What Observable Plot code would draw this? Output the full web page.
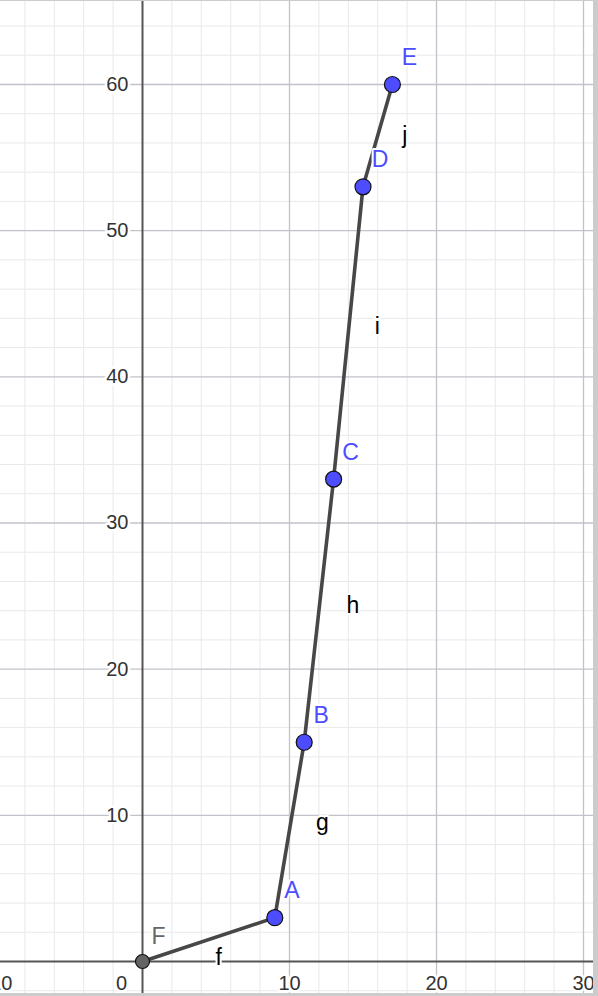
<!DOCTYPE html>
<html><head><meta charset="utf-8">
<script src="https://cdn.jsdelivr.net/npm/d3@7"></script>
<script src="https://cdn.jsdelivr.net/npm/@observablehq/plot@0.6"></script>
<style>
html,body{margin:0;padding:0;background:#cccccc;overflow:hidden;}
#chart{position:absolute;left:0;top:1px;width:593px;height:992px;background:#fff;}
#chart svg{display:block;}
</style></head><body><div id="chart"></div>
<script>
// ---- data ----
const pointNames = ["F", "A", "B", "C", "D", "E"];
const pointX = [0, 9, 11, 13, 15, 17];
const pointY = [0, 3, 15, 33, 53, 60];
const segmentNames = ["f", "g", "h", "i", "j"];
const xTickValues = [-10, 0, 10, 20, 30];
const yTickValues = [10, 20, 30, 40, 50, 60];

// ---- layout ----
const W = 593, H = 992;
const xDomain = [-142 / 14.7, (593 - 142) / 14.7];
const yDomain = [-(992 - 960) / 14.617, 960 / 14.617];
const segLabelOffsets = [[10, 18], [33, -7], [34, -5], [29, -6], [27, 0]];
const font = "Liberation Sans, Arial, Helvetica, sans-serif";

const points = pointNames.map((n, i) => ({name: n, x: pointX[i], y: pointY[i]}));
const segments = segmentNames.map((n, i) => ({
  name: n,
  x: (pointX[i] + pointX[i + 1]) / 2,
  y: (pointY[i] + pointY[i + 1]) / 2
}));
const freePoints = points.filter(p => p.name !== "F");
const originPoints = points.filter(p => p.name === "F");

const minorX = d3.range(-10, 32, 2).filter(d => d % 10 !== 0);
const minorY = d3.range(-2, 66, 2).filter(d => d % 10 !== 0);
const majorX = [-10, 10, 20, 30];
const majorY = [10, 20, 30, 40, 50, 60];

const marks = [
  Plot.ruleX(minorX, {x: d => d, stroke: "#e9e9ec", strokeWidth: 1}),
  Plot.ruleY(minorY, {y: d => d, stroke: "#e9e9ec", strokeWidth: 1}),
  Plot.ruleX(majorX, {x: d => d, stroke: "#c2c2ca", strokeWidth: 1.3}),
  Plot.ruleY(majorY, {y: d => d, stroke: "#c2c2ca", strokeWidth: 1.3}),
  Plot.ruleX([0], {x: d => d, stroke: "#555", strokeWidth: 2}),
  Plot.ruleY([0], {y: d => d, stroke: "#555", strokeWidth: 2}),
  // tick labels
  Plot.text(yTickValues, {
    x: 0, y: d => d, text: d => String(d), textAnchor: "end", dx: -14,
    fontSize: 20, fill: "#333", stroke: "white", strokeWidth: 5, fontFamily: font
  }),
  Plot.text(xTickValues.filter(d => d !== 0), {
    x: d => d, y: 0, text: d => (d < 0 ? "−" + Math.abs(d) : String(d)), dy: 22,
    fontSize: 20, fill: "#333", stroke: "white", strokeWidth: 5, fontFamily: font
  }),
  Plot.text([0], {
    x: 0, y: 0, text: d => String(d), dx: -21, dy: 22,
    fontSize: 20, fill: "#333", stroke: "white", strokeWidth: 5, fontFamily: font
  }),
  // polyline
  Plot.line(points, {x: "x", y: "y", stroke: "#474747", strokeWidth: 3.6, strokeLinecap: "round"}),
];

// segment labels
segments.forEach((s, i) => {
  marks.push(Plot.text([s], {
    x: "x", y: "y", text: "name", dx: segLabelOffsets[i][0], dy: segLabelOffsets[i][1],
    fontSize: 23, fill: "#000", stroke: "white", strokeWidth: 4, fontFamily: font
  }));
});

// point labels
marks.push(Plot.text(freePoints, {
  x: "x", y: "y", text: "name", dx: 17, dy: -27,
  fontSize: 23, fill: "#4d4dff", stroke: "white", strokeWidth: 4, fontFamily: font
}));
marks.push(Plot.text(originPoints, {
  x: "x", y: "y", text: "name", dx: 16, dy: -25,
  fontSize: 23, fill: "#666666", stroke: "white", strokeWidth: 4, fontFamily: font
}));

// points
marks.push(Plot.dot(freePoints, {
  x: "x", y: "y", r: 8, fill: "#4d4dff", stroke: "#111", strokeWidth: 1.2
}));
marks.push(Plot.dot(originPoints, {
  x: "x", y: "y", r: 7, fill: "#646464", stroke: "#111", strokeWidth: 1.2
}));

const chart = Plot.plot({
  width: W, height: H,
  marginLeft: 0, marginRight: 0, marginTop: 0, marginBottom: 0,
  x: {domain: xDomain, axis: null},
  y: {domain: yDomain, axis: null},
  style: {background: "white", fontFamily: font, overflow: "hidden"},
  marks
});
document.getElementById("chart").appendChild(chart);
</script>
</body></html>
